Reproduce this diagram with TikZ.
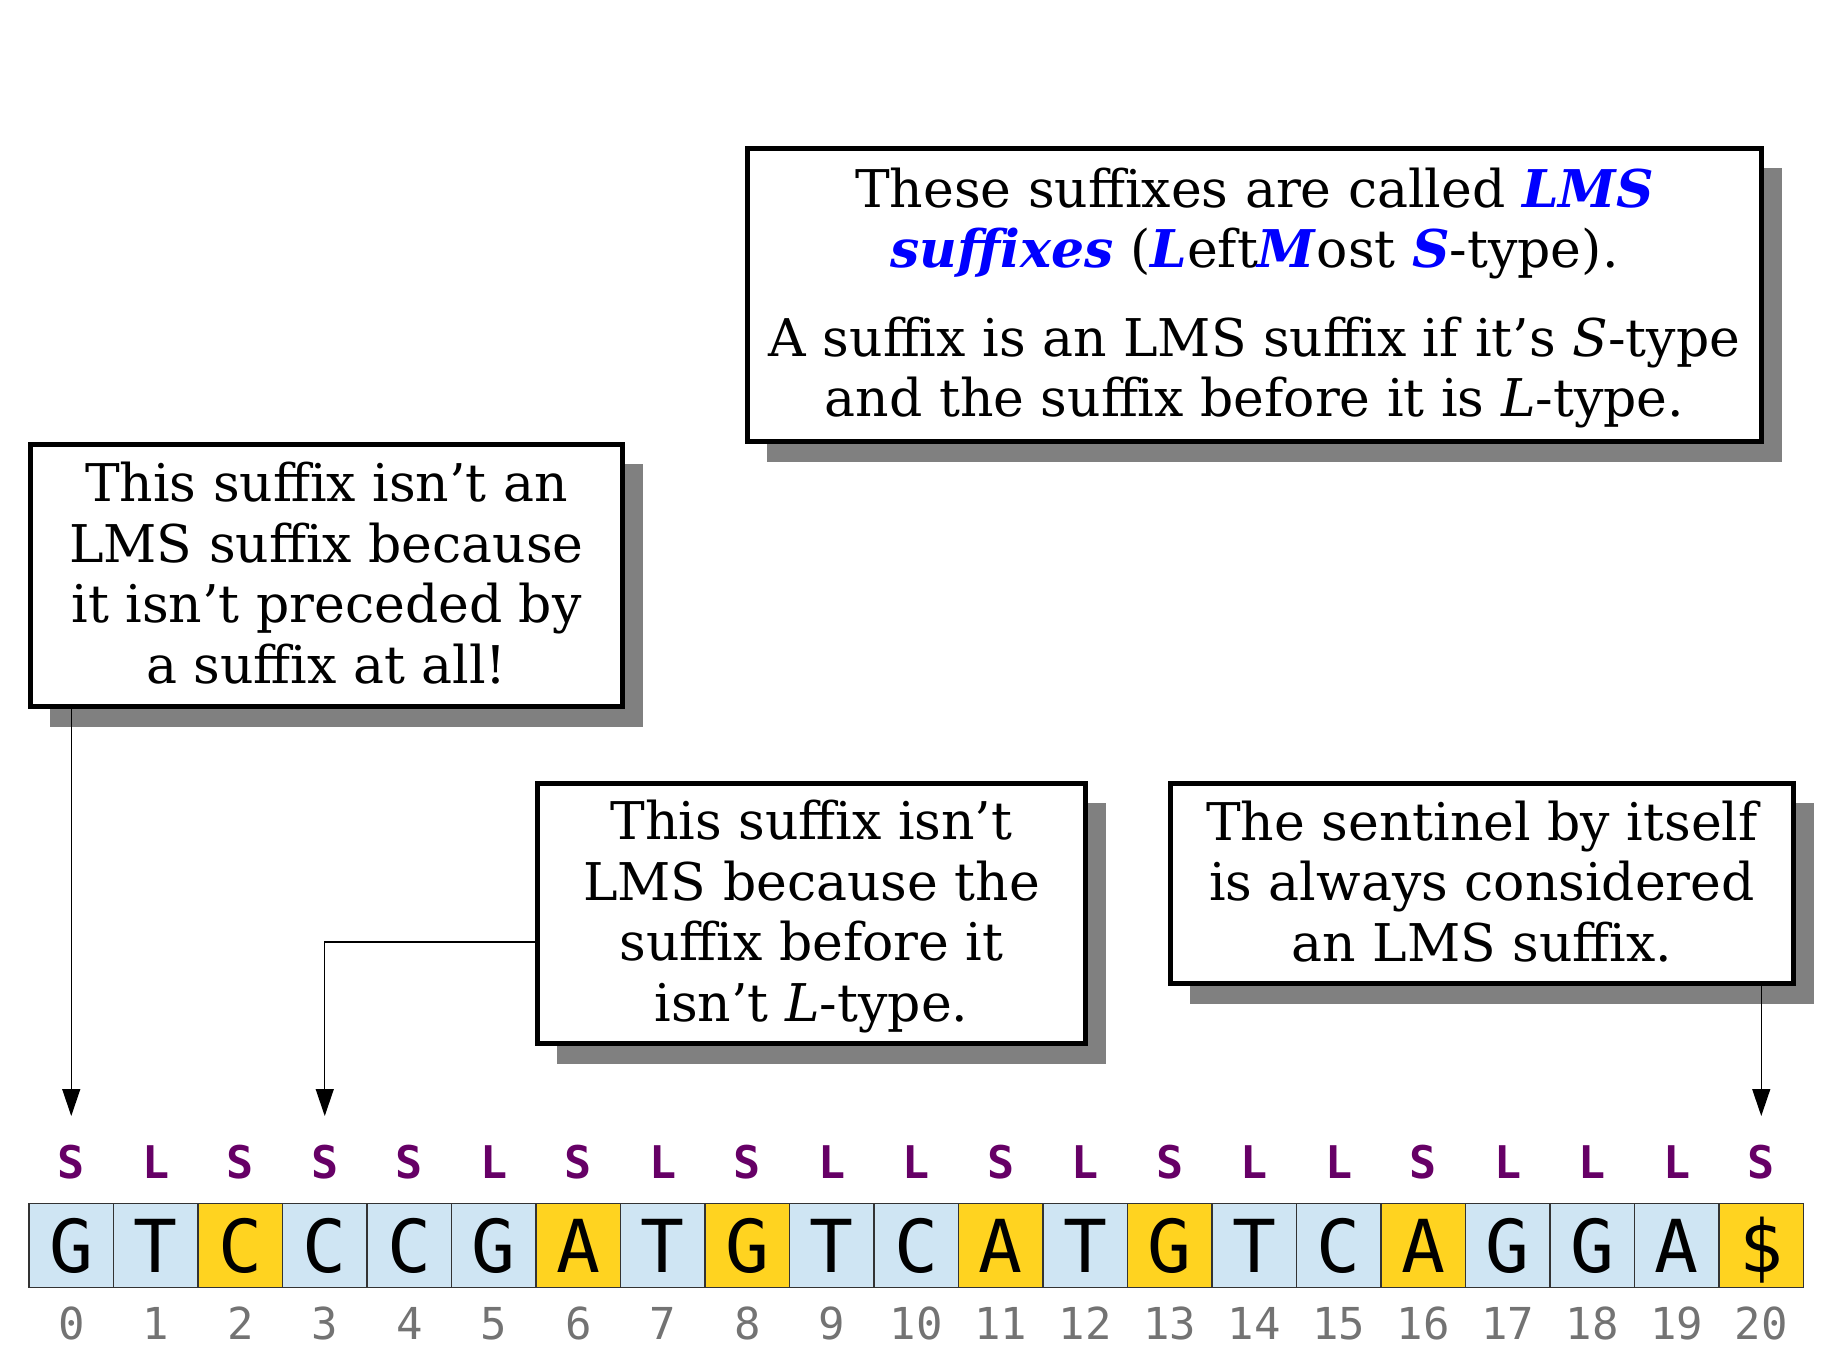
\documentclass[tikz,border=0pt]{standalone}
\usepackage{fontspec}
\setmainfont{DejaVu Serif}
\newfontfamily\monofont{DejaVu Sans Mono}
\usetikzlibrary{positioning,shadows,arrows.meta}
\definecolor{cellblue}{HTML}{CFE5F3}
\definecolor{lmsyellow}{HTML}{FFD320}
\definecolor{typepurple}{HTML}{660066}
\definecolor{idxgray}{HTML}{737373}
\newcommand{\lms}[1]{\textcolor{blue}{\textbf{\textit{#1}}}}
\newcommand{\topstrut}{\rule{0pt}{46.5pt}}
\newcommand{\botstrut}{\rule[-12.5pt]{0pt}{0pt}}

\begin{document}
\begin{tikzpicture}[x=1pt,y=-1pt]
  \tikzstyle{note}=[draw,line width=5pt,fill=white,inner sep=0pt,align=center,
    font=\fontsize{52}{60.5}\selectfont,
    drop shadow={shadow xshift=20pt,shadow yshift=-20pt,fill=black!50,opacity=1}]
  \tikzstyle{cellbox}=[draw=black!80,line width=1.2pt,minimum size=84.5pt,inner sep=0pt,
    text height=53pt,text depth=0pt,font=\monofont\fontsize{73}{80}\selectfont]
  \tikzstyle{typ}=[inner sep=0pt,text height=33pt,text depth=0pt,text=typepurple,
    font=\monofont\bfseries\fontsize{45}{50}\selectfont]
  \tikzstyle{idx}=[inner sep=0pt,text height=32pt,text depth=0pt,text=idxgray,
    font=\monofont\fontsize{44}{50}\selectfont]
  \tikzstyle{ptr}=[line width=1.3pt,-{Triangle[length=27pt,width=18pt]},shorten >=29.5pt]
  \useasboundingbox (0,0) rectangle (1834,1362);

  \node[note,minimum width=1014.5pt,minimum height=293.5pt] (lmsnote) at (1254.5,295)
    {\topstrut These suffixes are called \lms{LMS}\\
     \lms{suffixes} (\lms{L}eft\lms{M}ost \lms{S}-type).\\[28pt]
     A suffix is an LMS suffix if it’s \textit{S}-type\\
     and the suffix before it is \textit{L}-type.\botstrut};
  \node[note,minimum width=592.5pt,minimum height=262.5pt] (firstnote) at (326.5,575.5)
    {\topstrut This suffix isn’t an\\ LMS suffix because\\ it isn’t preceded by\\ a suffix at all!\botstrut};
  \node[note,minimum width=548.5pt,minimum height=260.5pt] (midnote) at (811.5,913.5)
    {\topstrut This suffix isn’t\\ LMS because the\\ suffix before it\\ isn’t \textit{L}-type.\botstrut};
  \node[note,minimum width=623.5pt,minimum height=200.5pt] (sentnote) at (1482,883.5)
    {\topstrut The sentinel by itself\\ is always considered\\ an LMS suffix.\botstrut};

  \foreach \ch/\t/\f [count=\i from 0] in {G/S/cellblue,T/L/cellblue,C/S/lmsyellow,
      C/S/cellblue,C/S/cellblue,G/L/cellblue,A/S/lmsyellow,T/L/cellblue,G/S/lmsyellow,
      T/L/cellblue,C/L/cellblue,A/S/lmsyellow,T/L/cellblue,G/S/lmsyellow,T/L/cellblue,
      C/L/cellblue,A/S/lmsyellow,G/L/cellblue,G/L/cellblue,A/L/cellblue,\$/S/lmsyellow}
  {
    \node[cellbox,fill=\f] (c\i) at ({71.25+84.5*\i},1245.5) {\ch};
    \node[typ,above=23.75pt of c\i] (t\i) {\t};
    \node[idx,below=19.25pt of c\i] (n\i) {\i};
  }

  \draw[ptr] (firstnote.south -| t0) -- (t0.north);
  \draw[ptr] ([yshift=-28.5pt]midnote.west) -| (t3.north);
  \draw[ptr] (sentnote.south -| t20) -- (t20.north);
\end{tikzpicture}
\end{document}
